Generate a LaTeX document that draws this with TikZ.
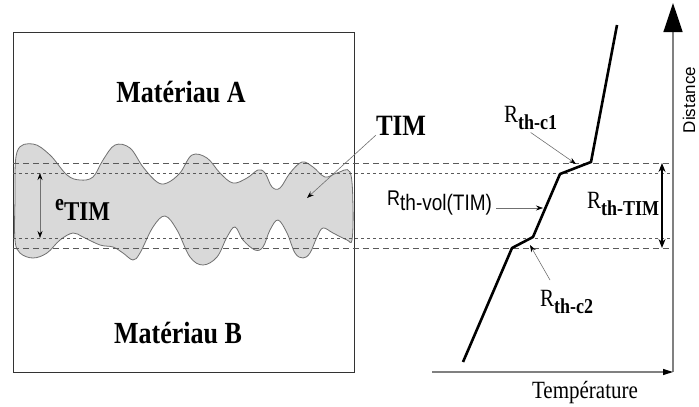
\documentclass[tikz,border=0pt]{standalone}
\usepackage{fontspec}
\usepackage{graphicx}
\setmainfont{Liberation Serif}
\setsansfont{Liberation Sans}
\usetikzlibrary{arrows.meta, positioning}
\definecolor{blobgray}{HTML}{D9D9D9}
\definecolor{linegray}{HTML}{707070}
\definecolor{dashgray}{HTML}{5A5A5A}
\newcommand{\tall}[1]{\scalebox{1}[1.18]{#1}}
\newcommand{\rsub}[1]{\tall{R\raisebox{-6pt}{\fontsize{18}{18}\selectfont\bfseries #1}}}

\begin{document}
\begin{tikzpicture}[
    x=1pt, y=-1pt,
    every node/.style={inner sep=0pt},
    mat/.style={font=\fontsize{26}{28}\selectfont\bfseries, anchor=base},
    rlbl/.style={font=\fontsize{21}{22}\selectfont, anchor=base west},
    longdash/.style={draw=dashgray, line width=0.8pt, dash pattern=on 6pt off 4pt},
    shortdash/.style={draw=dashgray, line width=0.8pt, dash pattern=on 3pt off 3pt},
    thinarrow/.style={draw=linegray, line width=0.6pt, -{Stealth[length=7pt, width=5pt, color=black]}},
    thindarrow/.style={draw=linegray, line width=0.6pt, {Stealth[length=7pt, width=5pt, color=black]}-{Stealth[length=7pt, width=5pt, color=black]}},
    bigdarrow/.style={draw=black, line width=1.3pt, {Stealth[length=9pt, width=7pt]}-{Stealth[length=9pt, width=7pt]}},
    axis/.style={draw=gray, line width=1.3pt},
    profile/.style={draw=black, line width=2.6pt, line join=round}
]
    \useasboundingbox (0,0) rectangle (699,407);

    % TIM layer
    \draw[draw=linegray, line width=0.8pt, fill=blobgray] plot[smooth cycle, tension=0.6] coordinates {
        (15,200) (17,152) (33,144) (50,155) (67,175) (80,180) (93,177) (103,160)
        (115,145) (130,148) (143,167) (157,182) (167,183) (180,173) (192,155)
        (207,158) (220,173) (233,183) (247,178) (258,170) (265,173) (272,187)
        (280,188) (290,173) (302,162) (313,167) (325,177) (337,173) (350,172)
        (353,207) (352,240) (347,240) (333,233) (323,228) (317,237) (310,253)
        (303,258) (295,253) (287,233) (278,220) (270,230) (263,247) (255,250)
        (243,240) (235,227) (227,237) (217,257) (203,265) (190,257) (177,230)
        (165,216) (153,227) (140,253) (133,260) (123,253) (113,247) (100,245)
        (83,237) (73,233) (60,240) (47,253) (33,258) (20,253) (15,240)};

    % sample box
    \node[draw=black!80, line width=0.8pt, minimum width=341pt, minimum height=340pt, anchor=north west] (box) at (13,32) {};

    \node[mat] (matA) at (181,102) {\tall{Matériau A}};
    \node[mat] (matB) at (178,343) {\tall{Matériau B}};

    % interface levels
    \draw[longdash] (13,163) -- (673,163);
    \draw[longdash] (13,248) -- (673,248);
    \draw[shortdash] (13,173) -- (673,173);
    \draw[shortdash] (13,238) -- (673,238);

    % axes
    \coordinate (origin) at (673,372);
    \coordinate (ytop) at (673,3);
    \coordinate (xleft) at (432,372);
    \draw[axis, -{Triangle[length=29pt, width=19pt, color=black]}] (origin) -- (ytop);
    \draw[axis, -{Triangle[length=10pt, width=6pt, color=black]}] (xleft) -- (origin);
    \node[font=\fontsize{21}{22}\selectfont, anchor=base] (temp) at (585,398) {\tall{Température}};
    \node[font=\sffamily\fontsize{17}{20}\selectfont, rotate=90, anchor=base] (dist) at (695,100) {Distance};

    % temperature profile
    \coordinate (p1) at (617,25);
    \coordinate (p2) at (591,162);
    \coordinate (p3) at (560,174);
    \coordinate (p4) at (533,237);
    \coordinate (p5) at (512,248);
    \coordinate (p6) at (463,362);
    \draw[profile] (p1) -- (p2) -- (p3) -- (p4) -- (p5) -- (p6);

    % labels
    \node[font=\fontsize{25}{28}\selectfont\bfseries, anchor=base] (tim) at (401,135) {\tall{TIM}};
    \coordinate (timtip) at (307,198);
    \draw[thinarrow] (tim.south west) -- (timtip);

    \node[font=\fontsize{23}{26}\selectfont\bfseries, anchor=base west] (etim) at (55,220) {\tall{\raisebox{8pt}{\fontsize{20}{22}\selectfont e}TIM}};
    \coordinate (etop) at (40,173);
    \coordinate (ebot) at (40,238);
    \draw[thindarrow] (etop) -- (ebot);

    \node[rlbl] (rc1) at (504,122) {\rsub{th-c1}};
    \coordinate (c1tip) at (576,164);
    \draw[thinarrow] (rc1.south) ++(0,3) coordinate (c1start) (c1start) -- (c1tip);

    \node[font=\sffamily\fontsize{18}{20}\selectfont, anchor=base west] (rvol) at (387,205) {\tall{R\raisebox{-5pt}{\fontsize{19}{20}\selectfont th-vol(TIM)}}};
    \coordinate (voltip) at (543,208);
    \draw[thinarrow] (rvol.east |- voltip) ++(4,0) coordinate (volstart) (volstart) -- (voltip);

    \node[rlbl] (rtim) at (587,208) {\rsub{th-TIM}};
    \coordinate (rtop) at (662,163);
    \coordinate (rbot) at (662,248);
    \draw[bigdarrow] (rtop) -- (rbot);

    \node[rlbl] (rc2) at (540,306) {\rsub{th-c2}};
    \coordinate (c2start) at (550,280);
    \coordinate (c2tip) at (530,245);
    \draw[thinarrow] (c2start) -- (c2tip);
\end{tikzpicture}
\end{document}
